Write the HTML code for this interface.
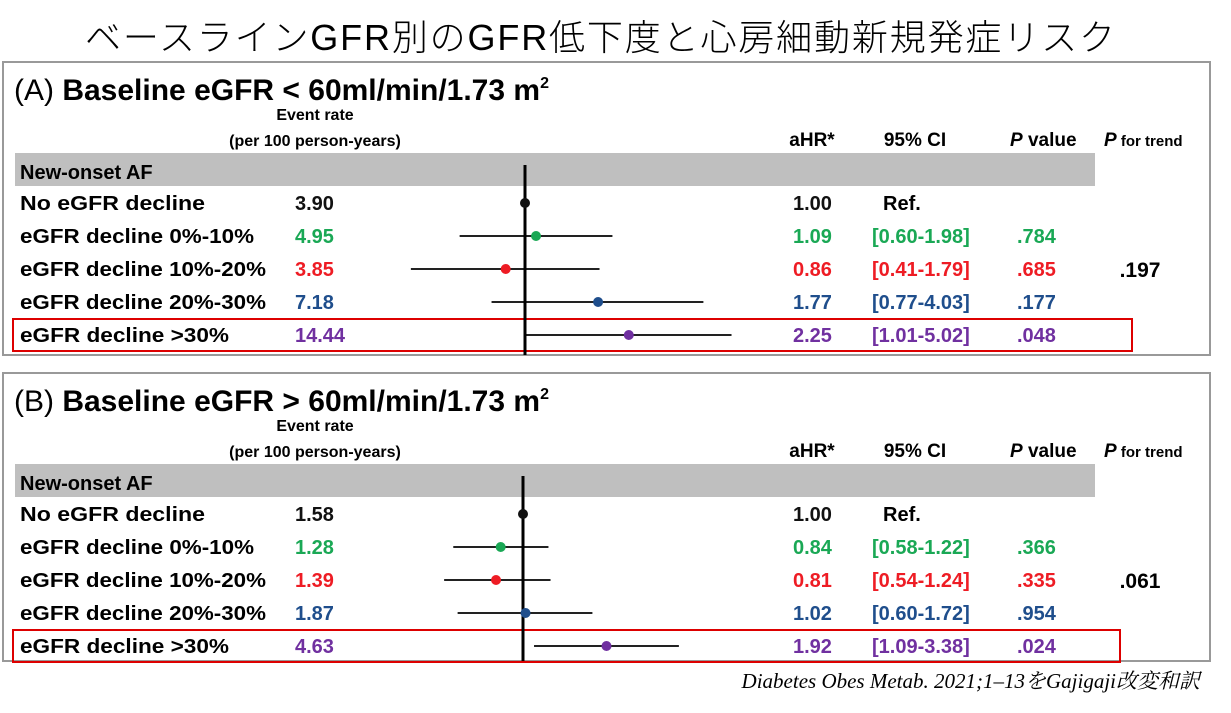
<!DOCTYPE html>
<html><head><meta charset="utf-8"><style>
body{margin:0;background:#fff}
svg text{font-family:"Liberation Sans","Noto Sans CJK JP",sans-serif}
</style></head><body>
<svg id="s" width="1231" height="708" viewBox="0 0 1231 708" xmlns="http://www.w3.org/2000/svg">
<text x="600" y="50" text-anchor="middle" font-size="36" font-family="'Noto Sans CJK JP',sans-serif" font-weight="300" textLength="1030">ベースラインGFR別のGFR低下度と心房細動新規発症リスク</text>
<text x="1200" y="688" text-anchor="end" font-size="21" font-style="italic" style="font-family:'Liberation Serif','Noto Serif CJK SC',serif">Diabetes Obes Metab. 2021;1–13をGajigaji改変和訳</text>
</svg>
<script>
const rowLabels=["No eGFR decline","eGFR decline 0%-10%","eGFR decline 10%-20%","eGFR decline 20%-30%","eGFR decline >30%"];
const rowColors=["#111","#1aa855","#ee1c24","#1f4e8c","#7030a0"];
const rateA=["3.90","4.95","3.85","7.18","14.44"];
const hrA=[1.00,1.09,0.86,1.77,2.25];
const loA=[null,0.60,0.41,0.77,1.01];
const hiA=[null,1.98,1.79,4.03,5.02];
const pA=["",".784",".685",".177",".048"];
const trendA=".197";
const rateB=["1.58","1.28","1.39","1.87","4.63"];
const hrB=[1.00,0.84,0.81,1.02,1.92];
const loB=[null,0.58,0.54,0.60,1.09];
const hiB=[null,1.22,1.24,1.72,3.38];
const pB=["",".366",".335",".954",".024"];
const trendB=".061";
const NS="http://www.w3.org/2000/svg";
const svg=document.getElementById('s');
function mk(tag,attrs,parent){const e=document.createElementNS(NS,tag);for(const k in attrs)e.setAttribute(k,attrs[k]);(parent||svg).appendChild(e);return e;}
function txt(x,y,s,o,p){const t=mk('text',Object.assign({x:x,y:y},o),p);t.textContent=s;return t;}
function fmt(v){return v.toFixed(2);}
function panel(id,letter,cmp,top,refX,rate,hr,lo,hi,pv,trend,redW){
  const g=mk('g',{});
  
  
  const y0=top;
  const boxH=id==='a'?293:288;
  const box=mk('rect',{x:3,y:y0,width:1207,height:boxH,fill:'none',stroke:'#999','stroke-width':2},g);
  
  const t=txt(14,y0+38,'',{'font-size':30,'font-weight':'bold'},g);
  
  t.innerHTML='<tspan font-weight="normal">('+letter+')</tspan> Baseline eGFR '+cmp+' 60ml/min/1.73 m<tspan font-size="16" dy="-12">2</tspan>';
  const e1=txt(315,y0+58,'Event rate',{'font-size':16,'font-weight':'bold','text-anchor':'middle'},g);
  
  const e2=txt(315,y0+84,'(per 100 person-years)',{'font-size':16,'font-weight':'bold','text-anchor':'middle'},g);
  
  const hy=y0+84;
  [['aHR*',812],['95% CI',915]].forEach(h=>{const e=txt(h[1],hy,h[0],{'font-size':19,'font-weight':'bold','text-anchor':'middle'},g);});
  const pvh=txt(1010,hy,'',{'font-size':19,'font-weight':'bold'},g);
  pvh.innerHTML='<tspan font-style="italic">P</tspan> value';
  
  const pth=txt(1104,hy,'',{'font-size':19,'font-weight':'bold'},g);
  pth.innerHTML='<tspan font-style="italic">P</tspan><tspan font-size="15"> for trend</tspan>';
  
  const gb=mk('rect',{x:15,y:y0+91,width:1080,height:33,fill:'#bfbfbf'},g);
  
  const sl=txt(20,y0+117,'New-onset AF',{'font-size':20,'font-weight':'bold'},g);
  
  const rowY=i=>y0+141+i*33;
  const xs=v=>refX+128*Math.log(v);
  const rb=mk('rect',{x:13,y:rowY(4)-16,width:redW,height:32,fill:'none',stroke:'#d00','stroke-width':2},g);
  
  for(let i=0;i<5;i++){
    const y=rowY(i),c=rowColors[i];
    const l=txt(20,y+7,rowLabels[i],{'font-size':20,'font-weight':'bold',textLength:Math.round(rowLabels[i].length*12.3),lengthAdjust:'spacingAndGlyphs'},g);
    
    const r=txt(295,y+7,rate[i],{'font-size':20,'font-weight':'bold',fill:c},g);
    
    const h=txt(793,y+7,fmt(hr[i]),{'font-size':20,'font-weight':'bold',fill:c},g);
    
    if(lo[i]!==null){
      const ci=txt(872,y+7,'['+fmt(lo[i])+'-'+fmt(hi[i])+']',{'font-size':20,'font-weight':'bold',fill:c},g);
      
      const pl=txt(1017,y+7,pv[i],{'font-size':20,'font-weight':'bold',fill:c},g);
      
      const ln=mk('line',{x1:xs(lo[i]),x2:xs(hi[i]),y1:y,y2:y,stroke:'#222','stroke-width':2},g);
      
    } else {
      const rf=txt(883,y+7,'Ref.',{'font-size':20,'font-weight':'bold'},g);
      
    }
  }
  const vl=mk('line',{x1:refX,x2:refX,y1:y0+103,y2:y0+boxH,stroke:'#000','stroke-width':3},g);
  
  for(let i=0;i<5;i++){
    const d=mk('circle',{cx:xs(hr[i]),cy:rowY(i),r:5,fill:rowColors[i]},g);
    
  }
  const tr=txt(1140,rowY(2)+8,trend,{'font-size':21,'font-weight':'bold','text-anchor':'middle'},g);
  
}
panel('a','A','<',62,525,rateA,hrA,loA,hiA,pA,trendA,1119);
panel('b','B','>',373,523,rateB,hrB,loB,hiB,pB,trendB,1107);
</script>
</body></html>
